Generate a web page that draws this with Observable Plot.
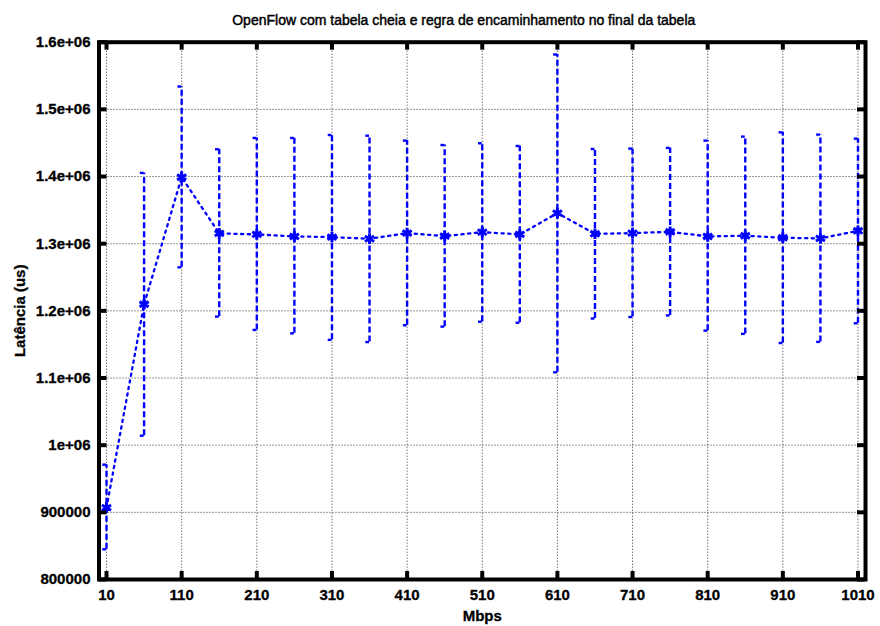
<!DOCTYPE html>
<html>
<head>
<meta charset="utf-8">
<script src="https://cdn.jsdelivr.net/npm/d3@7"></script>
<script src="https://cdn.jsdelivr.net/npm/@observablehq/plot@0.6"></script>
<style>
  html, body { margin: 0; padding: 0; background: #fff; }
  svg { display: block; }
</style>
</head>
<body>
<div id="chart"></div>
<script>
// ---- data ----
const mbps = [10, 60, 110, 160, 210, 260, 310, 360, 410, 460, 510, 560, 610, 660, 710, 760, 810, 860, 910, 960, 1010];
const latency = [907000, 1209800, 1399000, 1315300, 1313800, 1310800, 1309800, 1307300, 1315700, 1311300, 1317200, 1313800, 1345500, 1314700, 1315700, 1317700, 1310800, 1311800, 1308800, 1307900, 1319200];
const latencyHigh = [971000, 1405400, 1534000, 1440600, 1457400, 1457400, 1461800, 1460800, 1453500, 1446900, 1449500, 1445500, 1581700, 1441000, 1441600, 1442600, 1453500, 1459400, 1465800, 1462400, 1456400];
const latencyLow = [845000, 1014100, 1264800, 1191400, 1171600, 1166500, 1156800, 1153500, 1178500, 1176500, 1183800, 1182300, 1108500, 1188600, 1190800, 1193200, 1170500, 1165700, 1152100, 1153800, 1181500];

const xTicks = [10, 110, 210, 310, 410, 510, 610, 710, 810, 910, 1010];
const yTicks = [800000, 900000, 1000000, 1100000, 1200000, 1300000, 1400000, 1500000, 1600000];
const yTickLabels = ["800000", "900000", "1e+06", "1.1e+06", "1.2e+06", "1.3e+06", "1.4e+06", "1.5e+06", "1.6e+06"];

const title = "OpenFlow com tabela cheia e regra de encaminhamento no final da tabela";
const xLabel = "Mbps";
const yLabel = "Latência (us)";

// ---- layout ----
const W = 880, H = 626;
const mL = 98.5, mR = 15, mT = 41.7, mB = 47;
const plotH = H - mT - mB, plotW = W - mL - mR;
const tickLen = 8;
const blue = "#0000ff";
const font = "'Liberation Sans', Arial, Helvetica, sans-serif";

const rows = mbps.map((x, i) => ({x, y: latency[i], lo: latencyLow[i], hi: latencyHigh[i]}));

const chart = Plot.plot({
  width: W,
  height: H,
  marginLeft: mL,
  marginRight: mR,
  marginTop: mT,
  marginBottom: mB,
  style: {fontFamily: font, background: "#fff"},
  x: {domain: [0, 1020], axis: null},
  y: {domain: [800000, 1600000], axis: null},
  marks: [
    // grid
    Plot.ruleX(xTicks, {stroke: "#333", strokeWidth: 1, strokeDasharray: "1,2"}),
    Plot.ruleY(yTicks, {stroke: "#333", strokeWidth: 1, strokeDasharray: "1,2"}),
    // error bars
    Plot.ruleX(rows, {x: "x", y1: "lo", y2: "hi", stroke: blue, strokeWidth: 2.4, strokeDasharray: "6,3"}),
    Plot.ruleY(rows, {y: "hi", x1: d => d.x - 5, x2: "x", stroke: blue, strokeWidth: 2.4}),
    Plot.ruleY(rows, {y: "lo", x1: d => d.x - 5, x2: "x", stroke: blue, strokeWidth: 2.4}),
    // connecting line
    Plot.line(rows, {x: "x", y: "y", stroke: blue, strokeWidth: 2.3, strokeDasharray: "2.2,4.5"}),
    // markers
    Plot.dot(rows, {x: "x", y: "y", symbol: "asterisk", r: 5, stroke: blue, strokeWidth: 3}),
    // frame
    Plot.frame({stroke: "#000", strokeWidth: 4}),
    // inward ticks
    Plot.ruleX(xTicks, {stroke: "#000", strokeWidth: 4, insetTop: plotH - tickLen}),
    Plot.ruleX(xTicks, {stroke: "#000", strokeWidth: 4, insetBottom: plotH - tickLen}),
    Plot.ruleY(yTicks, {stroke: "#000", strokeWidth: 4, insetRight: plotW - tickLen}),
    Plot.ruleY(yTicks, {stroke: "#000", strokeWidth: 4, insetLeft: plotW - tickLen}),
    // tick labels
    Plot.text(xTicks, {x: d => d, frameAnchor: "bottom", dy: 16, lineAnchor: "middle", text: d => String(d), fontSize: 15, fontWeight: "bold", fill: "#000", stroke: "#000", strokeWidth: 0.3}),
    Plot.text(yTicks, {y: d => d, frameAnchor: "left", dx: -8.5, textAnchor: "end", lineAnchor: "middle", text: (d, i) => yTickLabels[i], fontSize: 15, fontWeight: "bold", fill: "#000", stroke: "#000", strokeWidth: 0.3}),
    // axis labels
    Plot.text([yLabel], {frameAnchor: "left", dx: -78.5, rotate: -90, textAnchor: "middle", lineAnchor: "middle", fontSize: 15, fontWeight: "bold", fill: "#000", stroke: "#000", strokeWidth: 0.3}),
    Plot.text([xLabel], {frameAnchor: "bottom", dy: 37, textAnchor: "middle", lineAnchor: "middle", fontSize: 15, fontWeight: "bold", fill: "#000", stroke: "#000", strokeWidth: 0.3}),
    // title
    Plot.text([title], {frameAnchor: "top", dy: -22, dx: -18.5, textAnchor: "middle", lineAnchor: "middle", fontSize: 14, fill: "#000", stroke: "#000", strokeWidth: 0.45})
  ]
});
document.getElementById("chart").appendChild(chart);
</script>
</body>
</html>
